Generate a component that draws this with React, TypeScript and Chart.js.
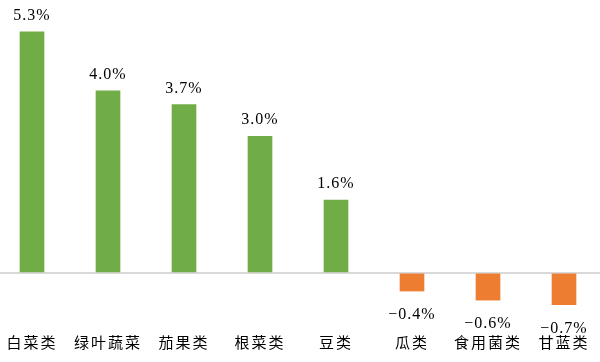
import React, { useEffect, useRef } from "react";
import { Chart, registerables } from "chart.js";

Chart.register(...registerables);

const categories = ["白菜类", "绿叶蔬菜", "茄果类", "根菜类", "豆类", "瓜类", "食用菌类", "甘蓝类"];
const values = [5.3, 4.0, 3.7, 3.0, 1.6, -0.4, -0.6, -0.7];
const valueLabels = ["5.3%", "4.0%", "3.7%", "3.0%", "1.6%", "−0.4%", "−0.6%", "−0.7%"];

const GREEN = "#70AD47";
const ORANGE = "#ED7D31";

const valueLabelPlugin = {
  id: "valueLabels",
  beforeDraw(chart: any) {
    chart.ctx.letterSpacing = "2px";
  },
  afterDatasetsDraw(chart: any) {
    const ctx = chart.ctx;
    const meta = chart.getDatasetMeta(0);
    ctx.save();
    ctx.letterSpacing = "1px";
    ctx.font = '16px "Liberation Serif"';
    ctx.fillStyle = "#000";
    ctx.textAlign = "center";
    ctx.textBaseline = "alphabetic";
    meta.data.forEach((bar: any, i: number) => {
      const v = values[i];
      const y = v >= 0 ? bar.y - 12 : bar.y + 28;
      ctx.fillText(valueLabels[i], bar.x, y);
    });
    ctx.restore();
  },
};

export default function App() {
  const ref = useRef<HTMLCanvasElement>(null);
  useEffect(() => {
    document.body.style.margin = "0";
    const chart = new Chart(ref.current!, {
      type: "bar",
      data: {
        labels: categories,
        datasets: [
          {
            data: values,
            backgroundColor: values.map((v) => (v >= 0 ? GREEN : ORANGE)),
            barThickness: 24,
          },
        ],
      },
      options: {
        animation: false,
        responsive: false,
        layout: { padding: { top: 0, left: 0, right: 0, bottom: 9 } },
        plugins: { legend: { display: false }, tooltip: { enabled: false } },
        scales: {
          x: {
            offset: true,
            grid: { display: false },
            border: { display: false },
            ticks: {
              font: { family: '"Noto Sans CJK SC"', size: 15 },
              color: "#000",
              padding: 2,
              maxRotation: 0,
              autoSkip: false,
            },
          },
          y: {
            min: -1.103,
            max: 6,
            border: { display: false },
            grid: {
              drawTicks: false,
              color: (c: any) => (c.tick && c.tick.value === 0 ? "#D9D9D9" : "rgba(0,0,0,0)"),
              lineWidth: 2,
            },
            ticks: { display: false, stepSize: 1 },
          },
        },
      },
      plugins: [valueLabelPlugin],
    });
    return () => chart.destroy();
  }, []);
  return (
    <div style={{ position: "fixed", left: -6, top: 0, width: 608, height: 362 }}>
      <canvas ref={ref} width={608} height={362} style={{ display: "block" }} />
    </div>
  );
}
